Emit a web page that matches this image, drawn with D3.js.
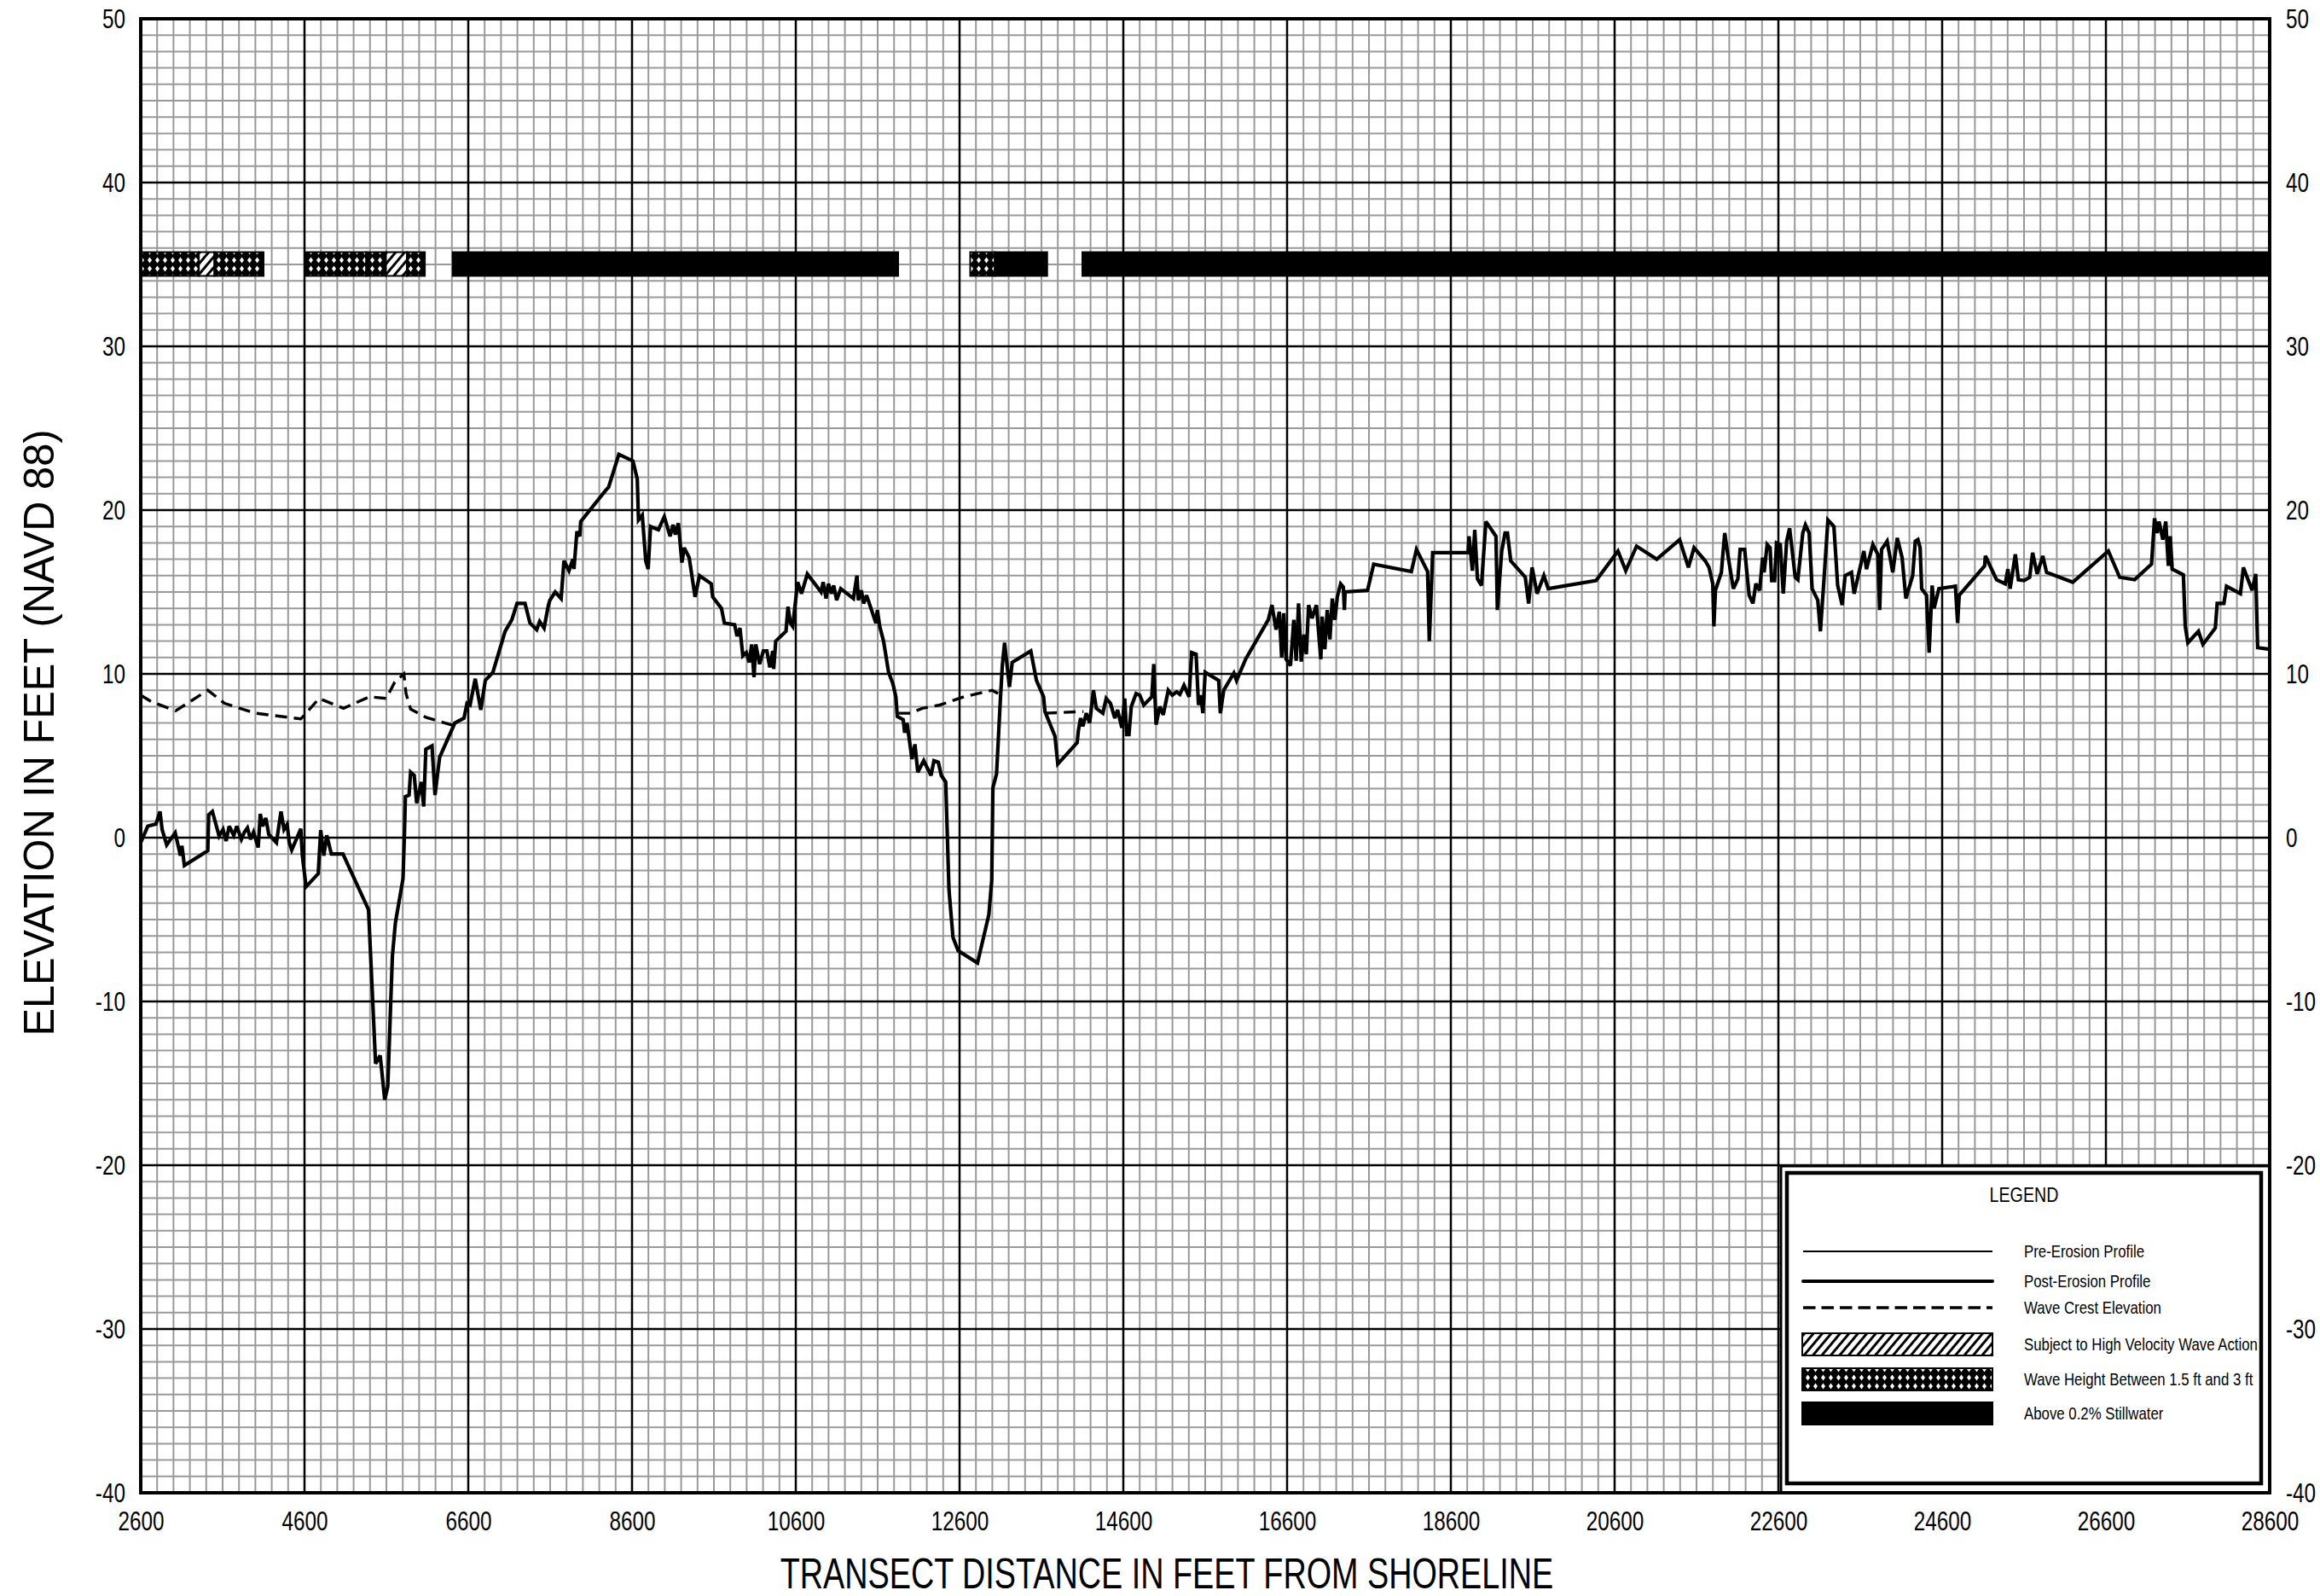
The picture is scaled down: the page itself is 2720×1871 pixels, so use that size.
<!DOCTYPE html>
<html>
<head>
<meta charset="utf-8">
<script src="https://cdn.jsdelivr.net/npm/d3@7"></script>
<style>
  body { margin: 0; background: #fff; }
  text { font-family: "Liberation Sans", Arial, sans-serif; fill: #000; }
</style>
</head>
<body>
<svg id="chart" width="2720" height="1871"></svg>
<script>
// Transect profile chart, elevation vs distance from shoreline

// Tick labels
var xTicks = [2600, 4600, 6600, 8600, 10600, 12600, 14600, 16600, 18600, 20600, 22600, 24600, 26600, 28600];
var yTicks = [-40, -30, -20, -10, 0, 10, 20, 30, 40, 50];

// Post-erosion ground profile [distance ft, elevation ft]
var profile = [
  [2600, -0.3], [2686, 0.7], [2786, 0.83], [2835, 1.6], [2861, 0.5], [2917, -0.44], [3021, 0.3],
  [3085, -1.1], [3103, -0.5], [3133, -1.7], [3419, -0.8], [3430, 1.4], [3475, 1.6], [3557, 0.1],
  [3605, 0.5], [3643, -0.2], [3680, 0.7], [3736, 0.14], [3773, 0.7], [3829, -0.1], [3866, 0.34],
  [3903, 0.6], [3941, -0.1], [3978, 0.34], [4034, -0.6], [4060, 1.45], [4090, 0.7], [4127, 1.2],
  [4164, 0.2], [4257, -0.3], [4313, 1.6], [4350, 0.5], [4388, 0.8], [4414, -0.3], [4444, -0.75],
  [4555, 0.54], [4574, -1.1], [4619, -3.0], [4768, -2.2], [4798, 0.46], [4835, -1.1], [4872, 0.14],
  [4928, -1.0], [5070, -1.0], [5382, -4.4], [5468, -13.8], [5524, -13.3], [5580, -16.0], [5617, -15.2],
  [5673, -7.25], [5710, -5.2], [5803, -2.5], [5821, 0.3], [5832, 2.5], [5877, 2.6], [5896, 4.0],
  [5940, 3.8], [5970, 2.1], [6026, 3.4], [6056, 1.9], [6082, 5.4], [6157, 5.6], [6194, 2.6],
  [6250, 4.9], [6436, 7.0], [6548, 7.3], [6585, 8.2], [6622, 8.1], [6685, 9.7], [6753, 7.8],
  [6808, 9.6], [6901, 10.1], [7050, 12.6], [7132, 13.3], [7196, 14.3], [7293, 14.3], [7354, 13.1],
  [7436, 12.7], [7472, 13.2], [7526, 12.8], [7579, 14.2], [7597, 14.5], [7662, 15.0], [7734, 14.6],
  [7769, 16.9], [7830, 16.3], [7877, 17.0], [7891, 16.4], [7927, 18.7], [7963, 18.4], [7973, 19.3],
  [8278, 21.2], [8314, 21.4], [8439, 23.4], [8611, 23.0], [8664, 21.9], [8679, 19.4], [8725, 19.7],
  [8768, 16.9], [8797, 16.4], [8826, 19.0], [8922, 18.8], [8994, 19.6], [9065, 18.4], [9101, 19.1],
  [9130, 18.5], [9166, 19.2], [9209, 16.8], [9237, 17.7], [9298, 17.1], [9370, 14.7], [9424, 16.0],
  [9567, 15.5], [9585, 14.7], [9692, 14.0], [9728, 13.1], [9853, 13.0], [9882, 12.3], [9918, 12.8],
  [9953, 11.1], [9996, 11.3], [10032, 10.7], [10061, 11.8], [10090, 9.8], [10111, 11.8], [10158, 10.6],
  [10204, 11.4], [10247, 11.4], [10283, 10.4], [10319, 11.4], [10330, 10.3], [10355, 12.0], [10480, 12.6],
  [10505, 14.1], [10534, 13.1], [10562, 12.9], [10623, 15.6], [10670, 14.9], [10741, 16.1], [10909, 15.0],
  [10934, 15.6], [10970, 14.6], [10999, 15.5], [11035, 14.9], [11063, 15.4], [11099, 14.5], [11149, 15.2],
  [11304, 14.6], [11347, 16.0], [11364, 14.5], [11400, 15.1], [11429, 14.3], [11464, 14.8], [11579, 13.1],
  [11596, 13.9], [11625, 12.9], [11672, 12.0], [11733, 10.1], [11786, 9.4], [11822, 8.6], [11840, 7.4],
  [11912, 7.2], [11930, 6.4], [11958, 7.0], [11994, 5.7], [12019, 4.8], [12055, 5.7], [12090, 4.0],
  [12162, 4.7], [12251, 3.8], [12287, 4.7], [12341, 4.6], [12377, 3.8], [12431, 3.4], [12471, -3.2],
  [12520, -6.1], [12583, -6.9], [12819, -7.65], [12958, -4.7], [12993, -2.6], [13007, 3.05], [13052, 3.9],
  [13097, 8.3], [13122, 10.5], [13150, 11.9], [13174, 10.8], [13209, 9.2], [13243, 10.7], [13470, 11.4],
  [13539, 9.6], [13626, 8.6], [13643, 7.7], [13765, 6.2], [13800, 4.5], [14036, 5.8], [14050, 6.5],
  [14078, 7.3], [14106, 6.8], [14148, 7.6], [14189, 7.0], [14235, 9.0], [14270, 7.9], [14350, 7.6],
  [14391, 8.5], [14443, 8.2], [14496, 7.3], [14530, 7.8], [14582, 6.7], [14617, 8.5], [14641, 6.3],
  [14669, 6.3], [14697, 8.0], [14756, 8.8], [14801, 8.7], [14850, 8.1], [14948, 8.6], [14972, 10.6],
  [15000, 6.9], [15045, 8.0], [15087, 7.5], [15149, 9.0], [15198, 8.7], [15250, 8.9], [15291, 8.75],
  [15341, 9.3], [15403, 8.6], [15435, 11.3], [15489, 11.2], [15518, 8.1], [15547, 8.7], [15572, 7.6],
  [15600, 10.1], [15765, 9.6], [15785, 7.6], [15826, 9.0], [15950, 10.05], [15983, 9.6], [16094, 10.9],
  [16370, 13.3], [16415, 14.2], [16465, 12.7], [16505, 13.8], [16534, 11.0], [16559, 13.7], [16588, 10.9],
  [16641, 10.5], [16682, 13.3], [16711, 10.8], [16740, 14.3], [16773, 10.75], [16806, 12.4], [16835, 11.2],
  [16863, 14.2], [16905, 13.4], [16958, 14.2], [17012, 10.9], [17028, 13.5], [17061, 11.5], [17090, 13.9],
  [17123, 12.1], [17152, 14.6], [17184, 13.3], [17213, 14.7], [17254, 15.5], [17287, 15.3], [17300, 13.9],
  [17308, 15.0], [17583, 15.1], [17658, 16.7], [18118, 16.25], [18180, 17.6], [18316, 16.25], [18337, 12.0],
  [18378, 17.4], [18810, 17.4], [18822, 18.4], [18863, 16.3], [18892, 18.8], [18925, 15.8], [18974, 15.4],
  [19028, 19.3], [19151, 18.4], [19168, 13.9], [19221, 17.5], [19262, 18.6], [19291, 18.6], [19332, 16.9],
  [19509, 15.9], [19550, 14.3], [19592, 16.5], [19653, 14.9], [19736, 16.0], [19789, 15.2], [20374, 15.7],
  [20641, 17.5], [20736, 16.3], [20868, 17.8], [21114, 17.0], [21394, 18.2], [21501, 16.5], [21570, 17.7],
  [21707, 16.9], [21753, 16.5], [21799, 15.5], [21812, 12.9], [21831, 15.1], [21904, 16.2], [21922, 17.3],
  [21945, 18.6], [21982, 17.3], [22050, 15.2], [22105, 15.8], [22133, 17.6], [22188, 17.6], [22243, 14.8],
  [22289, 14.3], [22325, 15.5], [22371, 15.1], [22408, 17.1], [22426, 16.2], [22463, 17.9], [22499, 17.7],
  [22518, 15.7], [22554, 15.7], [22577, 18.0], [22623, 17.9], [22660, 14.9], [22701, 18.1], [22737, 18.9],
  [22806, 15.9], [22838, 15.75], [22898, 18.6], [22930, 19.1], [22976, 18.6], [23012, 15.2], [23081, 14.5],
  [23113, 12.6], [23159, 15.9], [23205, 19.4], [23278, 19.0], [23324, 15.4], [23379, 14.2], [23415, 16.0],
  [23493, 16.2], [23525, 14.9], [23644, 17.5], [23676, 16.4], [23754, 17.9], [23814, 17.3], [23837, 13.9],
  [23860, 17.6], [23928, 18.1], [23997, 16.2], [24052, 18.3], [24111, 17.1], [24157, 14.6], [24240, 16.0],
  [24272, 18.1], [24304, 18.2], [24331, 17.7], [24350, 15.2], [24409, 14.8], [24441, 11.3], [24478, 15.4],
  [24501, 14.0], [24560, 15.2], [24762, 15.35], [24789, 13.1], [24808, 14.8], [25119, 16.6], [25128, 17.2],
  [25265, 15.75], [25371, 15.5], [25403, 16.4], [25430, 15.2], [25494, 17.3], [25531, 15.75], [25600, 15.7],
  [25669, 15.9], [25705, 17.4], [25760, 16.1], [25829, 17.2], [25875, 16.2], [26195, 15.6], [26630, 17.5],
  [26768, 15.9], [26951, 15.75], [27157, 16.7], [27194, 19.5], [27226, 18.6], [27249, 19.3], [27295, 18.2],
  [27331, 19.3], [27363, 16.6], [27386, 18.4], [27409, 16.4], [27546, 16.05], [27569, 12.9], [27601, 11.9],
  [27730, 12.6], [27785, 11.8], [27936, 12.8], [27959, 14.3], [28041, 14.3], [28073, 15.35], [28243, 14.9],
  [28279, 16.5], [28385, 15.1], [28430, 16.1], [28453, 11.6], [28600, 11.5]
];

// Wave crest elevation, null marks a break in the dashed line
var waveCrest = [
  [2600, 8.7], [2730, 8.3], [3028, 7.75], [3419, 9.0], [3624, 8.2], [3997, 7.6], [4555, 7.25],
  [4779, 8.5], [5077, 7.9], [5393, 8.6], [5598, 8.5], [5702, 9.5], [5814, 10.0], [5840, 8.8],
  [5896, 7.85], [6082, 7.35], [6417, 6.85],
  [6500, null],
  [11851, 7.6], [12002, 7.6], [12145, 7.9], [12360, 8.1], [12652, 8.6], [13000, 9.0], [13070, 8.8],
  [13300, null],
  [13643, 7.6], [14113, 7.7]
];

// Flood zone bands along the top
var zoneFrom = [2600, 3310, 3500, 4600, 5355, 5595, 5850, 6410, 12730, 13030, 14100];
var zoneTo   = [3310, 3500, 4100, 5355, 5595, 5850, 6070, 11850, 13030, 13670, 28600];
var zoneKind = ["wave", "velocity", "wave", "wave", "wave", "velocity", "wave", "still", "wave", "still", "still"];
var zoneBand = [34.3, 35.75];

var legendItems = ["Pre-Erosion Profile", "Post-Erosion Profile", "Wave Crest Elevation",
  "Subject to High Velocity Wave Action", "Wave Height Between 1.5 ft and 3 ft", "Above 0.2% Stillwater"];

var svg = d3.select("#chart");
var pLeft = 165, pRight = 2661, pTop = 22, pBottom = 1750;

var x = d3.scaleLinear().domain([2600, 28600]).range([pLeft, pRight]);
var y = d3.scaleLinear().domain([-40, 50]).range([pBottom, pTop]);

svg.append("rect").attr("width", 2720).attr("height", 1871).attr("fill", "#fff");

// Patterns for the zone bands
var defs = svg.append("defs");
var dots = defs.append("pattern").attr("id", "waveFill")
  .attr("patternUnits", "userSpaceOnUse").attr("width", 9).attr("height", 10);
dots.append("rect").attr("width", 9).attr("height", 10).attr("fill", "#000");
dots.append("path").attr("d", "M4.5,1.5 L7,5 L4.5,8.5 L2,5 Z").attr("fill", "#fff");

var hatch = defs.append("pattern").attr("id", "velFill")
  .attr("patternUnits", "userSpaceOnUse").attr("width", 8).attr("height", 8)
  .attr("patternTransform", "rotate(40)");
hatch.append("rect").attr("width", 8).attr("height", 8).attr("fill", "#fff");
hatch.append("rect").attr("width", 3).attr("height", 8).attr("fill", "#000");

var fills = { wave: "url(#waveFill)", velocity: "url(#velFill)", still: "#000" };

// Minor grid
var grid = svg.append("g");
grid.selectAll(".vminor").data(x.ticks(130)).enter().append("line")
  .attr("x1", function(d) { return x(d); }).attr("x2", function(d) { return x(d); })
  .attr("y1", pTop).attr("y2", pBottom)
  .attr("stroke", "#999").attr("stroke-width", 2);
grid.selectAll(".hminor").data(y.ticks(90)).enter().append("line")
  .attr("y1", function(d) { return y(d); }).attr("y2", function(d) { return y(d); })
  .attr("x1", pLeft).attr("x2", pRight)
  .attr("stroke", "#999").attr("stroke-width", 2);

// Major grid
grid.selectAll(".vmajor").data(xTicks).enter().append("line")
  .attr("x1", function(d) { return x(d); }).attr("x2", function(d) { return x(d); })
  .attr("y1", pTop).attr("y2", pBottom)
  .attr("stroke", "#000").attr("stroke-width", 2.5);
grid.selectAll(".hmajor").data(yTicks).enter().append("line")
  .attr("y1", function(d) { return y(d); }).attr("y2", function(d) { return y(d); })
  .attr("x1", pLeft).attr("x2", pRight)
  .attr("stroke", "#000").attr("stroke-width", 2.5);

// Zone bands
svg.append("g").selectAll("rect").data(zoneFrom).enter().append("rect")
  .attr("x", function(d) { return x(d); })
  .attr("y", y(zoneBand[1]))
  .attr("width", function(d, i) { return x(zoneTo[i]) - x(d); })
  .attr("height", y(zoneBand[0]) - y(zoneBand[1]))
  .attr("fill", function(d, i) { return fills[zoneKind[i]]; })
  .attr("stroke", "#000").attr("stroke-width", 2);

// Wave crest
var line = d3.line()
  .defined(function(d) { return d[1] != null; })
  .x(function(d) { return x(d[0]); })
  .y(function(d) { return y(d[1]); });

svg.append("path").datum(waveCrest).attr("d", line)
  .attr("fill", "none").attr("stroke", "#000").attr("stroke-width", 3.4)
  .attr("stroke-dasharray", "14,8");

// Profile
svg.append("path").datum(profile).attr("d", line)
  .attr("fill", "none").attr("stroke", "#000").attr("stroke-width", 4.2)
  .attr("stroke-linejoin", "miter").attr("stroke-miterlimit", 3);

// Legend box
var lg = svg.append("g");
lg.append("rect").attr("x", 2088).attr("y", 1367).attr("width", pRight - 2088).attr("height", pBottom - 1367)
  .attr("fill", "#fff").attr("stroke", "#000").attr("stroke-width", 3);
lg.append("rect").attr("x", 2095).attr("y", 1375).attr("width", 2651 - 2095).attr("height", 1739 - 1375)
  .attr("fill", "#fff").attr("stroke", "#000").attr("stroke-width", 4.5);
lg.append("text").attr("class", "lgtext").attr("x", 2373).attr("y", 1409).attr("text-anchor", "middle")
  .attr("font-size", 24).text("LEGEND");

var rowY = [1467, 1502, 1533, 1576, 1617, 1657];
lg.selectAll(".lt").data(legendItems).enter().append("text")
  .attr("class", "lgtext")
  .attr("x", 2373).attr("y", function(d, i) { return rowY[i] + 7; })
  .attr("font-size", 20.5).text(function(d) { return d; });

lg.append("line").attr("x1", 2114).attr("x2", 2336).attr("y1", rowY[0]).attr("y2", rowY[0])
  .attr("stroke", "#000").attr("stroke-width", 2);
lg.append("line").attr("x1", 2114).attr("x2", 2336).attr("y1", rowY[1]).attr("y2", rowY[1])
  .attr("stroke", "#000").attr("stroke-width", 4).attr("stroke-linecap", "round");
lg.append("line").attr("x1", 2114).attr("x2", 2336).attr("y1", rowY[2]).attr("y2", rowY[2])
  .attr("stroke", "#000").attr("stroke-width", 3.4).attr("stroke-dasharray", "14.5,7");
["velocity", "wave", "still"].forEach(function(k, i) {
  lg.append("rect").attr("x", 2113).attr("y", rowY[3 + i] - 13).attr("width", 223).attr("height", 26)
    .attr("fill", fills[k]).attr("stroke", "#000").attr("stroke-width", 2);
});

// Frame
svg.append("rect").attr("x", pLeft).attr("y", pTop).attr("width", pRight - pLeft).attr("height", pBottom - pTop)
  .attr("fill", "none").attr("stroke", "#000").attr("stroke-width", 4);

// Tick labels, plain hyphen for negatives as in the original
var plain = function(d) { return String(d); };
var axL = svg.append("g").attr("transform", "translate(" + pLeft + ",0)")
  .call(d3.axisLeft(y).tickValues(yTicks).tickSize(0).tickPadding(18).tickFormat(plain));
var axR = svg.append("g").attr("transform", "translate(" + pRight + ",0)")
  .call(d3.axisRight(y).tickValues(yTicks).tickSize(0).tickPadding(19).tickFormat(plain));
var axB = svg.append("g").attr("transform", "translate(0," + pBottom + ")")
  .call(d3.axisBottom(x).tickValues(xTicks).tickSize(0).tickPadding(21).tickFormat(plain));
[axL, axR, axB].forEach(function(a) {
  a.attr("font-family", null).attr("font-size", null);
  a.select(".domain").remove();
  a.selectAll("text").attr("class", "ticktext").attr("font-size", 32).attr("fill", "#000");
});

// Axis titles
svg.append("text").attr("class", "xtitle").attr("x", 1368).attr("y", 1862).attr("text-anchor", "middle")
  .attr("font-size", 50).text("TRANSECT DISTANCE IN FEET FROM SHORELINE");
svg.append("text").attr("class", "ytitle").attr("transform", "translate(63,859) rotate(-90)")
  .attr("text-anchor", "middle")
  .attr("font-size", 50).text("ELEVATION IN FEET (NAVD 88)");

// Narrow the lettering like the original condensed font (horizontal squeeze about the anchor)
function narrow(sel, k) {
  sel.each(function() {
    var t = d3.select(this);
    var x0 = +t.attr("x") || 0;
    var prev = t.attr("transform") || "";
    t.attr("transform", prev + " translate(" + x0 + ",0) scale(" + k + ",1) translate(" + (-x0) + ",0)");
  });
}
function fitTo(sel, len) {
  narrow(sel, len / sel.node().getComputedTextLength());
}
narrow(svg.selectAll(".ticktext"), 0.76);
narrow(svg.selectAll(".lgtext"), 0.82);
fitTo(svg.select(".xtitle"), 907);
fitTo(svg.select(".ytitle"), 711);
</script>
</body>
</html>
